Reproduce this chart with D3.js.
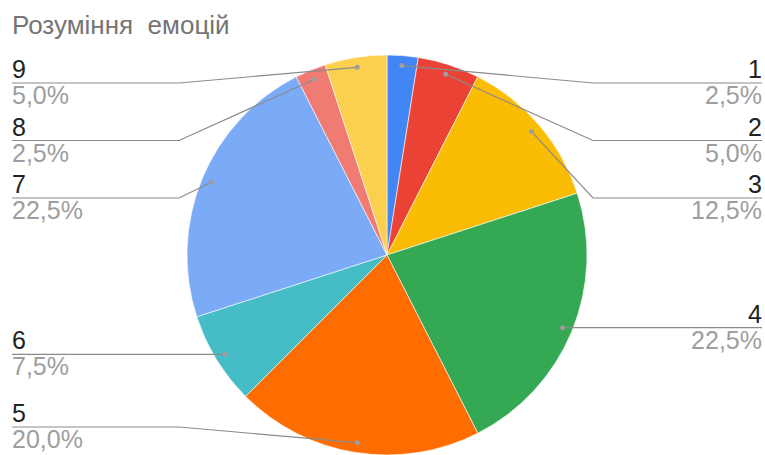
<!DOCTYPE html>
<html>
<head>
<meta charset="utf-8">
<script src="https://cdn.jsdelivr.net/npm/d3@7"></script>
<style>
    body { margin: 0; background: #fff; }
    text { font-family: "Liberation Sans", Arial, sans-serif; }
</style>
</head>
<body>
<svg id="chart" width="765" height="455"></svg>
<script>
const title = "Розуміння  емоцій";

const categories = ["1", "2", "3", "4", "5", "6", "7", "8", "9"];
const counts = [1, 2, 5, 9, 8, 3, 9, 1, 2];
const colors = ["#4285f4", "#ea4335", "#fbbc04", "#34a853", "#ff6d01",
                "#46bdc6", "#7baaf7", "#f07b72", "#fcd04f"];

const W = 765, H = 455;
const CENTER = {x: 387, y: 255};
const RADIUS = 200;
const SLOT_TOP = 83, SLOT_STEP = 57.5, SLOT_BOTTOM = 427;
const LEFT_X = 12, RIGHT_X = 762, LEFT_ELBOW = 179, RIGHT_ELBOW = 593;

const svg = d3.select("#chart");

svg.append("text").attr("x", 12).attr("y", 34)
    .style("white-space", "pre")
    .attr("font-size", 26).attr("fill", "#757575")
    .text(title);

const total = d3.sum(counts);
const data = categories.map((c, i) => ({name: c, value: counts[i], color: colors[i]}));

const pie = d3.pie().value(d => d.value).sort(null);
const arcs = pie(data);
const arc = d3.arc().innerRadius(0).outerRadius(RADIUS);
const dotArc = d3.arc().innerRadius(RADIUS * 0.95).outerRadius(RADIUS * 0.95);

const g = svg.append("g").attr("transform", `translate(${CENTER.x},${CENTER.y})`);
g.selectAll("path").data(arcs).enter().append("path")
    .attr("d", arc)
    .attr("fill", d => d.data.color)
    .attr("stroke", "#fff").attr("stroke-width", 0.6);

// label layout: each side stacked top-down in slots
let labels = arcs.map(a => {
    let c = dotArc.centroid(a);
    let mid = (a.startAngle + a.endAngle) / 2;
    return {arc: a, dx: c[0] + CENTER.x, dy: c[1] + CENTER.y, right: mid < Math.PI};
});

function layoutSide(list) {
    list.sort((a, b) => a.dy - b.dy);
    let slot = SLOT_TOP;
    list.forEach(l => {
        l.ly = Math.min(SLOT_BOTTOM, Math.max(slot, l.dy));
        if (Math.abs(l.ly - l.dy) < 3) l.ly = l.dy;
        slot = l.ly + SLOT_STEP;
    });
}
layoutSide(labels.filter(l => l.right));
layoutSide(labels.filter(l => !l.right));

const fmt = v => d3.format(".1f")(v).replace(".", ",") + "%";

labels.forEach(l => {
    let pts;
    let edgeX = l.right ? RIGHT_X : LEFT_X;
    let elbowX = l.right ? RIGHT_ELBOW : LEFT_ELBOW;
    if (l.ly === l.dy) {
        pts = [[l.dx, l.dy], [edgeX, l.ly]];
    } else {
        pts = [[l.dx, l.dy], [elbowX, l.ly], [edgeX, l.ly]];
    }
    svg.append("path").attr("d", d3.line()(pts))
        .attr("fill", "none").attr("stroke", "#8a8a8a").attr("stroke-width", 1.2);
    svg.append("circle").attr("cx", l.dx).attr("cy", l.dy).attr("r", 2.5)
        .attr("fill", "#9e9e9e");

    let anchor = l.right ? "end" : "start";
    svg.append("text").attr("x", edgeX).attr("y", l.ly - 5)
        .attr("text-anchor", anchor).attr("font-size", 25).attr("fill", "#222")
        .text(l.arc.data.name);
    svg.append("text").attr("x", edgeX).attr("y", l.ly + 21)
        .attr("text-anchor", anchor).attr("font-size", 25).attr("fill", "#9e9e9e")
        .text(fmt(l.arc.data.value / total * 100));
});
</script>
</body>
</html>
